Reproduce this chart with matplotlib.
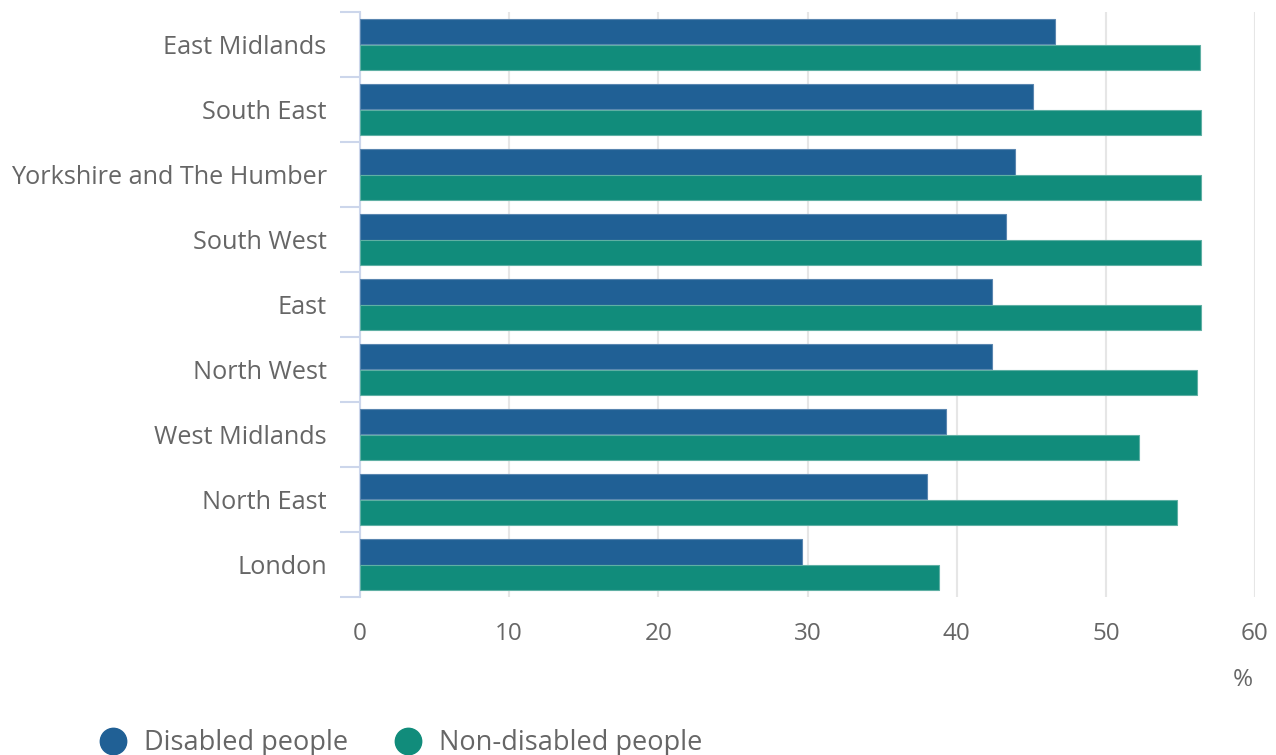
import matplotlib
matplotlib.use("Agg")
import matplotlib.pyplot as plt
import numpy as np
from matplotlib.lines import Line2D

plt.rcParams['font.family'] = ['Open Sans', 'DejaVu Sans']

regions = ["East Midlands", "South East", "Yorkshire and The Humber", "South West",
           "East", "North West", "West Midlands", "North East", "London"]
disabled = [46.6, 45.1, 43.9, 43.3, 42.4, 42.4, 39.3, 38.0, 29.6]
non_disabled = [56.3, 56.4, 56.4, 56.4, 56.4, 56.1, 52.2, 54.8, 38.8]
series_names = ["Disabled people", "Non-disabled people"]
x_ticks = [0, 10, 20, 30, 40, 50, 60]

blue = "#206095"
green = "#118c7b"
text_grey = "#666666"

fig = plt.figure(figsize=(12.76, 7.55), dpi=100)
ax = fig.add_axes([360 / 1276, 1 - 597 / 755, (1255 - 360) / 1276, (597 - 12) / 755])

y = np.arange(len(regions))
h = 0.39
ax.barh(y - h / 2, disabled, height=h, color=blue, edgecolor="#5a86b0", linewidth=0.8, zorder=3)
ax.barh(y + h / 2, non_disabled, height=h, color=green, edgecolor="#5fb0a4", linewidth=0.8, zorder=3)

ax.set_xlim(0, 60)
ax.set_ylim(len(regions) - 0.5, -0.5)
ax.set_xticks(x_ticks)
ax.set_xticklabels([str(t) for t in x_ticks])
ax.set_yticks(y)
ax.set_yticklabels(regions)
ax.set_yticks(np.arange(len(regions) + 1) - 0.5, minor=True)

ax.tick_params(axis="y", which="major", length=0, pad=24, labelsize=18.2, labelcolor=text_grey)
ax.tick_params(axis="y", which="minor", length=14.5, width=1.5, color="#ccd6eb")
ax.tick_params(axis="x", which="major", length=0, pad=18, labelsize=17.5, labelcolor=text_grey)

ax.grid(axis="x", color="#e6e6e6", linewidth=1.5, zorder=0)
ax.set_axisbelow(True)
for side in ("top", "right", "bottom"):
    ax.spines[side].set_visible(False)
ax.spines["left"].set_color("#ccd6eb")
ax.spines["left"].set_linewidth(1.5)

fig.text(1243 / 1276, 1 - 680 / 755, "%", ha="center", va="center", fontsize=17.5, color=text_grey)

handles = [Line2D([0], [0], marker="o", linestyle="none", markersize=19, markerfacecolor=c,
                  markeredgecolor=c) for c in (blue, green)]
leg = fig.legend(handles, series_names, loc="center left", bbox_to_anchor=(89 / 1276, 1 - 743 / 755),
                 ncol=2, frameon=False, fontsize=19.5, labelcolor=text_grey,
                 handletextpad=0.64, columnspacing=1.7, borderaxespad=0, handlelength=1.0)

fig.savefig("out.png", dpi=100)
